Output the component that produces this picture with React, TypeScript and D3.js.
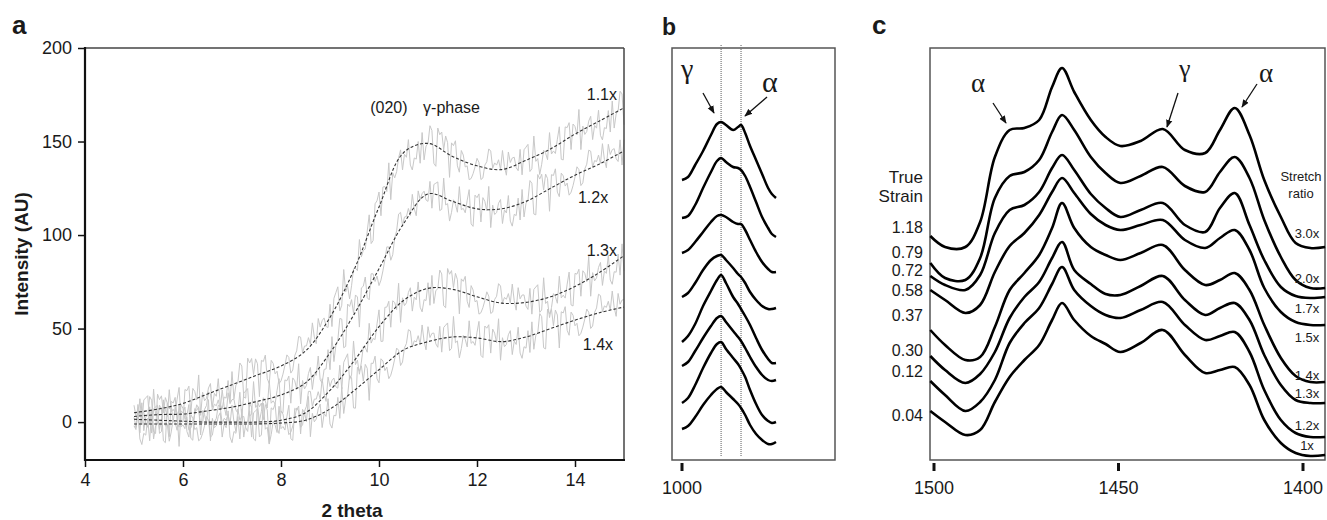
import React, { useRef, useEffect } from "react";
import * as d3 from "d3";

const W = 1327;
const H = 520;

// ---------- panel a : WAXD intensity vs 2 theta ----------
const thetaKnots = [5, 5.5, 6, 6.5, 7, 7.5, 8, 8.5, 9, 9.5, 10, 10.5, 11, 11.5, 12, 12.5, 13, 13.5, 14, 14.5, 15];
const fit11 = [5, 7, 10, 15, 20, 25, 30, 38, 56, 82, 115, 144, 149, 142, 137, 135, 140, 146, 154, 161, 168];
const fit12 = [3, 4, 4.3, 6, 8, 11, 14.5, 21, 37, 58, 82, 106, 122, 118, 114, 114, 118, 125, 132, 138, 145];
const fit13 = [1.5, 1, 0.5, 0, 0, 0, 1, 5, 17, 33, 51, 65, 71.5, 71, 67, 63.6, 64, 67, 72.5, 80, 89];
const fit14 = [-1, -1, -1, -1, -1, -1, -0.5, 1, 7, 17, 28, 38.5, 43, 45.5, 45, 43, 45.5, 50, 54.5, 58.5, 61.5];
const fitSeries = [fit11, fit12, fit13, fit14];
const fitNames = ["1.1x", "1.2x", "1.3x", "1.4x"];
// scatter of the raw counts around the fitted curve (AU)
const rawResidual = [
  4, -6, 8, -3, -9, 5, 10, -2, 1, -7,
  6, -10, 3, 9, -4, -1, 6, -8, 11, -3,
  0, 7, -5, 4, -11, 8, -2, 3, -7, 9,
  -1, -5, 10, -9, 2, 6, -3, 12, -6, 1,
  -8, 5, 7, -2, -10, 3, 9, -5, 0, 8,
  -4, 2, -9, 6, -1, 10, -7, 3, -3, 7,
  -12, 4, 1, -6, 9, -2, -8, 7, 2, -4,
  11, -9, 3, -1, 6, -7, 8, -3, -10, 5,
  0, 9, -6, 2, -2, 7, -8, 10, -4, 1,
  4, -11, 6, -1, 8, -7, 3,
];
const thetaTicks = [4, 6, 8, 10, 12, 14];
const intensityTicks = [0, 50, 100, 150, 200];

// ---------- panel b : FTIR 1000-975 cm-1 ----------
const bWave = [1000, 998.4, 996.5, 994.4, 992.3, 990.7, 989.6, 988.3, 986.4, 985.1, 984.3, 983.2, 981.9, 980.3, 978.7, 977.1, 976.1, 975.0];
const b1 = [2.80, 2.83, 2.95, 3.09, 3.25, 3.36, 3.38, 3.35, 3.30, 3.33, 3.35, 3.27, 3.14, 3.00, 2.86, 2.72, 2.66, 2.62];
const b2 = [2.42, 2.44, 2.55, 2.72, 2.88, 2.99, 3.02, 2.98, 2.93, 2.92, 2.90, 2.84, 2.73, 2.58, 2.43, 2.32, 2.26, 2.23];
const b3 = [2.07, 2.10, 2.18, 2.28, 2.38, 2.44, 2.45, 2.43, 2.38, 2.36, 2.36, 2.30, 2.20, 2.08, 1.98, 1.91, 1.88, 1.88];
const b4 = [1.63, 1.67, 1.77, 1.90, 2.00, 2.04, 2.05, 2.00, 1.92, 1.86, 1.83, 1.77, 1.68, 1.60, 1.54, 1.51, 1.51, 1.52];
const b5 = [1.18, 1.24, 1.36, 1.54, 1.69, 1.80, 1.85, 1.77, 1.63, 1.56, 1.51, 1.44, 1.35, 1.22, 1.10, 1.01, 0.97, 0.97];
const b6 = [0.94, 0.98, 1.09, 1.22, 1.34, 1.42, 1.44, 1.38, 1.29, 1.23, 1.19, 1.12, 1.03, 0.93, 0.85, 0.80, 0.79, 0.80];
const b7 = [0.57, 0.62, 0.75, 0.92, 1.07, 1.16, 1.18, 1.11, 1.02, 0.96, 0.91, 0.83, 0.70, 0.56, 0.45, 0.39, 0.37, 0.38];
const b8 = [0.31, 0.34, 0.43, 0.55, 0.65, 0.71, 0.73, 0.68, 0.61, 0.56, 0.52, 0.45, 0.35, 0.26, 0.20, 0.16, 0.16, 0.18];
const bSpectra = [b1, b2, b3, b4, b5, b6, b7, b8];
const bMarkers = [989.6, 984.3]; // gamma / alpha band positions

// ---------- panel c : FTIR 1500-1400 cm-1 ----------
const cWave = [1501, 1497, 1491.5, 1487.5, 1483.5, 1479.5, 1475.5, 1471.5, 1468, 1465.3, 1462, 1457.5, 1453.5, 1449.5, 1444, 1438, 1432, 1426.5, 1422.5, 1418.5, 1414.5, 1410.5, 1406, 1402, 1398, 1394];
const c30 = [2.24, 2.13, 2.13, 2.38, 3.03, 3.30, 3.32, 3.40, 3.73, 3.92, 3.68, 3.40, 3.23, 3.14, 3.19, 3.31, 3.10, 3.07, 3.30, 3.52, 3.25, 2.80, 2.43, 2.17, 2.12, 2.13];
const c20 = [1.97, 1.82, 1.80, 2.02, 2.62, 2.84, 2.88, 3.00, 3.28, 3.45, 3.30, 3.03, 2.87, 2.77, 2.84, 2.93, 2.74, 2.68, 2.88, 3.03, 2.82, 2.40, 2.03, 1.80, 1.72, 1.72];
const c17 = [1.84, 1.75, 1.70, 1.85, 2.27, 2.50, 2.55, 2.68, 2.92, 3.05, 2.90, 2.66, 2.52, 2.43, 2.50, 2.57, 2.35, 2.28, 2.52, 2.67, 2.35, 2.00, 1.73, 1.64, 1.62, 1.63];
const c15 = [1.70, 1.60, 1.47, 1.55, 1.88, 2.14, 2.27, 2.45, 2.68, 2.82, 2.67, 2.46, 2.35, 2.30, 2.35, 2.40, 2.20, 2.12, 2.22, 2.30, 2.10, 1.72, 1.48, 1.38, 1.35, 1.35];
const c14 = [1.30, 1.15, 1.00, 1.03, 1.33, 1.70, 1.87, 2.05, 2.32, 2.57, 2.32, 2.13, 2.05, 2.00, 2.07, 2.15, 1.90, 1.75, 1.80, 1.87, 1.70, 1.35, 1.02, 0.84, 0.78, 0.78];
const c13 = [1.04, 0.90, 0.77, 0.86, 1.08, 1.42, 1.63, 1.78, 2.02, 2.18, 1.90, 1.76, 1.66, 1.65, 1.74, 1.84, 1.60, 1.45, 1.52, 1.57, 1.40, 1.05, 0.75, 0.60, 0.57, 0.57];
const c12 = [0.79, 0.65, 0.49, 0.58, 0.80, 1.17, 1.37, 1.52, 1.76, 1.93, 1.70, 1.54, 1.45, 1.42, 1.50, 1.58, 1.35, 1.20, 1.24, 1.28, 1.08, 0.70, 0.40, 0.27, 0.23, 0.23];
const c10 = [0.49, 0.38, 0.25, 0.30, 0.58, 0.83, 1.00, 1.15, 1.40, 1.57, 1.40, 1.24, 1.16, 1.08, 1.17, 1.30, 1.05, 0.87, 0.90, 0.93, 0.75, 0.40, 0.17, 0.07, 0.04, 0.05];
const cSpectra = [c30, c20, c17, c15, c14, c13, c12, c10];
const stretchRatios = ["3.0x", "2.0x", "1.7x", "1.5x", "1.4x", "1.3x", "1.2x", "1x"];
const trueStrains = ["1.18", "0.79", "0.72", "0.58", "0.37", "0.30", "0.12", "0.04"];
const cTicks = [1500, 1450, 1400];

// label placement (layout, not data)
const fitLabelAt = [[14.24, 172], [14.06, 117], [14.24, 89], [14.16, 38.5]];
const stretchLabelY = [238, 283, 313, 342, 380, 398, 430, 450];
const strainLabelY = [233, 258, 276, 296, 321, 356, 377, 421];

const SANS = "'Liberation Sans', Arial, sans-serif";
const SERIF = "'Liberation Serif', 'Times New Roman', serif";

export default function App() {
  const svgRef = useRef<SVGSVGElement>(null);

  useEffect(() => {
    document.body.style.margin = "0";
    const svg = d3.select(svgRef.current);
    svg.selectAll("*").remove();

    svg.append("rect").attr("width", W).attr("height", H).attr("fill", "#fff");

    svg.append("defs").append("marker")
      .attr("id", "arrow")
      .attr("viewBox", "0 0 10 10")
      .attr("refX", 9).attr("refY", 5)
      .attr("markerWidth", 8).attr("markerHeight", 8)
      .attr("markerUnits", "userSpaceOnUse")
      .attr("orient", "auto")
      .append("path").attr("d", "M0,1L10,5L0,9Z").attr("fill", "#111");

    const text = (x: number, y: number, s: string, size: number, opts: any = {}) =>
      svg.append("text")
        .attr("x", x).attr("y", y)
        .attr("font-family", opts.family || SANS)
        .attr("font-size", size)
        .attr("font-weight", opts.bold ? "bold" : "normal")
        .attr("text-anchor", opts.anchor || "start")
        .attr("fill", "#1a1a1a")
        .text(s);

    const arrow = (x1: number, y1: number, x2: number, y2: number) =>
      svg.append("line")
        .attr("x1", x1).attr("y1", y1).attr("x2", x2).attr("y2", y2)
        .attr("stroke", "#111").attr("stroke-width", 1.3)
        .attr("marker-end", "url(#arrow)");

    // ================= panel a =================
    const xA = d3.scaleLinear().domain([4, 15]).range([85, 624]);
    const yA = d3.scaleLinear().domain([-20, 200]).range([459.5, 48]);
    const gA = svg.append("g");

    const rawGrid = d3.range(5, 15.0001, 0.04);
    const rawLine = d3.line<number[]>().x(d => xA(d[0])).y(d => yA(d[1]));
    fitSeries.forEach((fit, s) => {
      const base = d3.scaleLinear().domain(thetaKnots).range(fit);
      const pts = rawGrid.map((t, i) => [t, base(t) + rawResidual[(i * 7 + 31 * s) % rawResidual.length]]);
      gA.append("path")
        .attr("d", rawLine(pts))
        .attr("fill", "none")
        .attr("stroke", "#c8c8c8")
        .attr("stroke-width", 1);
    });

    const fitLine = d3.line<number>()
      .x((_, i) => xA(thetaKnots[i]))
      .y(d => yA(d))
      .curve(d3.curveCatmullRom.alpha(0.5));
    fitSeries.forEach(fit => {
      gA.append("path")
        .attr("d", fitLine(fit))
        .attr("fill", "none")
        .attr("stroke", "#333")
        .attr("stroke-width", 1.1)
        .attr("stroke-dasharray", "3,2");
    });

    // frame
    gA.append("line").attr("x1", 85).attr("x2", 624).attr("y1", 48).attr("y2", 48).attr("stroke", "#444").attr("stroke-width", 1.5);
    gA.append("line").attr("x1", 624).attr("x2", 624).attr("y1", 48).attr("y2", 460).attr("stroke", "#444").attr("stroke-width", 1.5);

    const axL = gA.append("g").attr("transform", "translate(85,0)")
      .call(d3.axisLeft(yA).tickValues(intensityTicks).tickSize(7).tickPadding(6));
    const axB = gA.append("g").attr("transform", "translate(0,460)")
      .call(d3.axisBottom(xA).tickValues(thetaTicks).tickSize(7).tickPadding(6));
    [axL, axB].forEach(ax => {
      ax.select(".domain").remove();
      ax.selectAll("line").attr("stroke", "#111").attr("stroke-width", 1.5);
      ax.selectAll("text").attr("font-family", SANS).attr("font-size", 18).attr("fill", "#1a1a1a");
    });
    gA.append("line").attr("x1", 85).attr("x2", 85).attr("y1", 47).attr("y2", 461).attr("stroke", "#111").attr("stroke-width", 2.2);
    gA.append("line").attr("x1", 84).attr("x2", 625).attr("y1", 460).attr("y2", 460).attr("stroke", "#111").attr("stroke-width", 2.2);

    fitNames.forEach((n, i) => text(xA(fitLabelAt[i][0]), yA(fitLabelAt[i][1]), n, 16));
    text(xA(9.82), yA(165), "(020)", 16);
    text(xA(10.9), yA(165), "\u03b3-phase", 16);

    text(352, 517, "2 theta", 19, { bold: true, anchor: "middle" });
    svg.append("text")
      .attr("transform", "translate(28,254) rotate(-90)")
      .attr("text-anchor", "middle")
      .attr("font-family", SANS).attr("font-size", 19).attr("font-weight", "bold")
      .attr("fill", "#1a1a1a")
      .text("Intensity (AU)");
    text(12, 34, "a", 26, { bold: true });

    // ================= panel b =================
    const xB = d3.scaleLinear().domain([1000, 960]).range([682, 832.4]);
    const yB = d3.scaleLinear().domain([0, 4.12]).range([460, 48]);
    const gB = svg.append("g");
    gB.append("rect").attr("x", 672).attr("y", 48).attr("width", 163).attr("height", 412)
      .attr("fill", "none").attr("stroke", "#555").attr("stroke-width", 1.5);
    bMarkers.forEach(w => {
      gB.append("line").attr("x1", xB(w)).attr("x2", xB(w)).attr("y1", 45).attr("y2", 457)
        .attr("stroke", "#777").attr("stroke-width", 1.2).attr("stroke-dasharray", "1,1");
    });
    const bLine = d3.line<number>()
      .x((_, i) => xB(bWave[i]))
      .y(d => yB(d))
      .curve(d3.curveCatmullRom.alpha(0.5));
    bSpectra.forEach(sp => {
      gB.append("path").attr("d", bLine(sp)).attr("fill", "none")
        .attr("stroke", "#000").attr("stroke-width", 2.5).attr("stroke-linejoin", "round");
    });
    gB.append("line").attr("x1", xB(1000)).attr("x2", xB(1000)).attr("y1", 463).attr("y2", 471)
      .attr("stroke", "#111").attr("stroke-width", 3);
    text(xB(1000), 494, "1000", 18, { anchor: "middle" });
    text(681, 78, "\u03b3", 28, { family: SERIF });
    text(762, 92, "\u03b1", 30, { family: SERIF });
    arrow(703, 93, 714, 113);
    arrow(767, 97, 745, 116);
    text(662, 35, "b", 23, { bold: true });

    // ================= panel c =================
    const xC = d3.scaleLinear().domain([1500, 1400]).range([934, 1303]);
    const yC = d3.scaleLinear().domain([0, 4.12]).range([460, 48]);
    const gC = svg.append("g");
    gC.append("rect").attr("x", 930).attr("y", 48).attr("width", 395).attr("height", 412)
      .attr("fill", "none").attr("stroke", "#555").attr("stroke-width", 1.5);
    const cLine = d3.line<number>()
      .x((_, i) => xC(cWave[i]))
      .y(d => yC(d))
      .curve(d3.curveCatmullRom.alpha(0.5));
    cSpectra.forEach(sp => {
      gC.append("path").attr("d", cLine(sp)).attr("fill", "none")
        .attr("stroke", "#000").attr("stroke-width", 2.6).attr("stroke-linejoin", "round");
    });
    cTicks.forEach(t => {
      gC.append("line").attr("x1", xC(t)).attr("x2", xC(t)).attr("y1", 463).attr("y2", 471)
        .attr("stroke", "#111").attr("stroke-width", 3);
      text(xC(t), 494, String(t), 18, { anchor: "middle" });
    });

    text(923, 183, "True", 17, { anchor: "end" });
    text(923, 202, "Strain", 17, { anchor: "end" });
    trueStrains.forEach((s, i) => text(923, strainLabelY[i], s, 16, { anchor: "end" }));

    text(1301, 181, "Stretch", 13, { anchor: "middle" });
    text(1301, 198, "ratio", 13, { anchor: "middle" });
    stretchRatios.forEach((s, i) => text(1307, stretchLabelY[i], s, 13, { anchor: "middle" }));

    text(971, 92, "\u03b1", 27, { family: SERIF });
    text(1179, 77, "\u03b3", 26, { family: SERIF });
    text(1259, 82, "\u03b1", 27, { family: SERIF });
    arrow(993, 103, 1006, 123);
    arrow(1178, 93, 1167, 127);
    arrow(1257, 84, 1242, 107);
    text(872, 34, "c", 26, { bold: true });
  }, []);

  return <svg ref={svgRef} width={W} height={H} style={{ display: "block" }} />;
}
